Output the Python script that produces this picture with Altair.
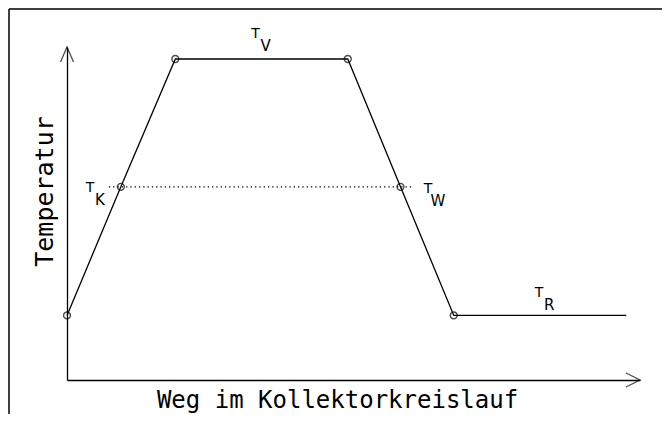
import altair as alt
import pandas as pd

# Path of the collector circuit temperature profile (relative units 0..100)
weg = [0.0, 9.4, 18.9, 49.0, 58.2, 67.5, 97.6]
temp = [19.4, 58.0, 96.4, 96.4, 58.0, 19.4, 19.4]
marker = [True, True, True, True, True, True, False]

# dotted T_K / T_W level
dot_x = [7.3, 60.4]
dot_y = [58.0, 58.0]

# labels (main letter + subscript)
lab_main = ["T", "T", "T", "T"]
lab_sub = ["V", "K", "W", "R"]
lab_x = [32.9, 4.0, 63.0, 82.4]
lab_y = [102.7, 56.5, 56.2, 24.9]

# axis arrow tips
arrow_x = [100.0, 0.0]
arrow_y = [0.0, 100.0]
arrow_shape = ["M-2,-1L0,0L-2,1", "M-1,2.3L0,0L1,2.3"]
arrow_size = [196, 169]

FONT = "DejaVu Sans"
TFONT = "DejaVu Sans Mono"
W, H = 573, 333

line_df = pd.DataFrame({"weg": weg, "temp": temp, "m": marker})
dot_df = pd.DataFrame({"x": [dot_x[0]], "x2": [dot_x[1]], "y": [dot_y[0]]})
lab_df = pd.DataFrame({"x": lab_x, "y": lab_y, "t": lab_main, "s": lab_sub})
one_df = pd.DataFrame({"k": [0]})

xs = alt.Scale(domain=[0, 100], nice=False, zero=False)
ys = alt.Scale(domain=[0, 100], nice=False, zero=False)

xaxis = alt.Axis(domain=True, domainColor="black", domainWidth=1.3, ticks=False,
                 labels=False, grid=False, title="Weg im Kollektorkreislauf",
                 titleFont=TFONT, titleFontSize=24, titleFontWeight="normal",
                 titleColor="black", titleX=270, titleY=27,
                 titleBaseline="alphabetic")
yaxis = alt.Axis(domain=True, domainColor="black", domainWidth=1.3, ticks=False,
                 labels=False, grid=False, title="Temperatur",
                 titleFont=TFONT, titleFontSize=25, titleFontWeight="normal",
                 titleColor="black", titleY=144, titleX=-15,
                 titleBaseline="alphabetic", titleAngle=270)

base = alt.Chart(line_df)

line = base.mark_line(color="black", strokeWidth=1.3).encode(
    x=alt.X("weg:Q", scale=xs, axis=xaxis),
    y=alt.Y("temp:Q", scale=ys, axis=yaxis),
)
pts = base.transform_filter("datum.m").mark_point(
    shape="circle", filled=False, color="black", size=48, strokeWidth=1.4
).encode(x=alt.X("weg:Q", scale=xs), y=alt.Y("temp:Q", scale=ys))

dots = alt.Chart(dot_df).mark_rule(color="black", strokeWidth=1.3,
                                   strokeDash=[1.3, 3]).encode(
    x=alt.X("x:Q", scale=xs), x2="x2:Q", y=alt.Y("y:Q", scale=ys))

t_main = alt.Chart(lab_df).mark_text(font=FONT, fontSize=14,
                                     color="black", align="center",
                                     baseline="alphabetic").encode(
    x=alt.X("x:Q", scale=xs), y=alt.Y("y:Q", scale=ys), text="t:N")
t_sub = alt.Chart(lab_df).mark_text(font=FONT, fontSize=15,
                                    color="black", align="center",
                                    baseline="alphabetic", dx=10, dy=13).encode(
    x=alt.X("x:Q", scale=xs), y=alt.Y("y:Q", scale=ys), text="s:N")

arrows = [
    alt.Chart(pd.DataFrame({"x": [ax], "y": [ay]})).mark_point(
        shape=sh, size=sz, filled=False, color="black", strokeWidth=1.3
    ).encode(x=alt.X("x:Q", scale=xs), y=alt.Y("y:Q", scale=ys))
    for ax, ay, sh, sz in zip(arrow_x, arrow_y, arrow_shape, arrow_size)
]

# frame (top and left edges of the figure box)
frame_top = alt.Chart(one_df).mark_rule(color="black", strokeWidth=1.5).encode(
    x=alt.value(-58), x2=alt.value(W + 22), y=alt.value(-38), y2=alt.value(-38))
frame_left = alt.Chart(one_df).mark_rule(color="black", strokeWidth=1.5).encode(
    x=alt.value(-58), x2=alt.value(-58), y=alt.value(-38), y2=alt.value(H + 40))

chart = alt.layer(frame_top, frame_left, dots, line, pts, t_main, t_sub, *arrows).properties(
    width=W, height=H, autosize="none",
    padding={"left": 59, "top": 39, "right": 22, "bottom": 34},
).configure_view(strokeWidth=0, strokeOpacity=0)

chart.save("out.html", embed_options={"renderer": "svg", "actions": False})
